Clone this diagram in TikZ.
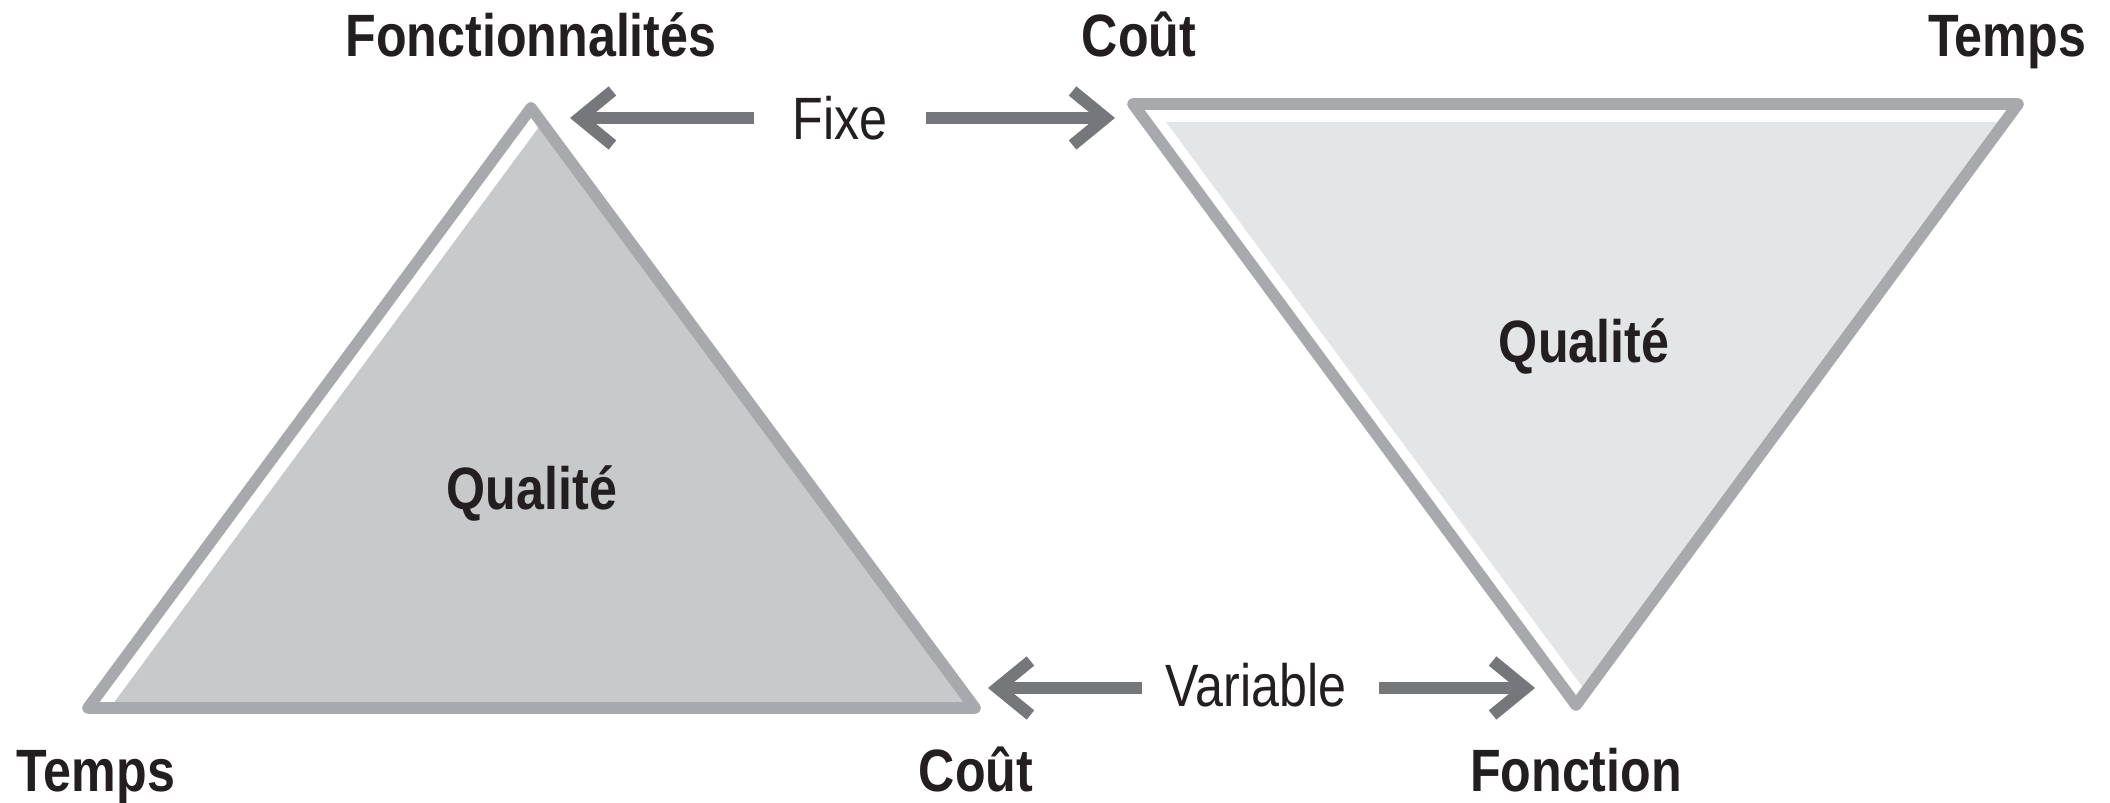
\documentclass[tikz,border=0pt]{standalone}
\usepackage{fontspec}
\usepackage{tikz}
\usetikzlibrary{arrows.meta}
\newfontfamily\condfont{Liberation Sans}[FakeStretch=0.84]
\definecolor{tri_rim}{HTML}{A7A9AC}
\definecolor{tri_dark}{HTML}{C8C9CB}
\definecolor{tri_light}{HTML}{E4E5E6}
\definecolor{arr_grey}{HTML}{76777A}
\definecolor{txt_black}{HTML}{231F20}
\tikzstyle{bl}=[anchor=base,inner sep=0pt,text=txt_black,
  font=\condfont\bfseries\fontsize{17}{20}\selectfont]
\tikzstyle{lt}=[anchor=base,inner sep=0pt,text=txt_black,
  font=\condfont\fontsize{17}{20}\selectfont]
\tikzstyle{rim}=[draw=tri_rim,line width=3.3pt,line join=round]
\tikzstyle{arr}=[draw=arr_grey,line width=3.4pt,
  -{Straight Barb[length=3.3mm,width=5.4mm]}]
\tikzstyle{none}=[inner sep=0pt,minimum size=0pt]

\begin{document}
\begin{tikzpicture}
    \useasboundingbox (0,0) rectangle (21.10,8.03);
    % corners
    \node [style=none] (1) at (5.31, 6.95) {};
    \node [style=none] (2) at (0.88, 0.95) {};
    \node [style=none] (3) at (9.75, 0.95) {};
    \node [style=none] (4) at (11.33, 6.99) {};
    \node [style=none] (5) at (20.18, 6.99) {};
    \node [style=none] (6) at (15.76, 0.98) {};
    % left triangle
    \begin{scope}
        \clip (1.center) -- (2.center) -- (3.center) -- cycle;
        \fill [tri_dark] ([xshift=0.22cm]1.center) -- ([xshift=0.22cm]2.center)
            -- ([xshift=0.22cm]3.center) -- cycle;
    \end{scope}
    \draw [style=rim] (1.center) -- (2.center) -- (3.center) -- cycle;
    % right triangle
    \begin{scope}
        \clip (4.center) -- (5.center) -- (6.center) -- cycle;
        \fill [tri_light] ([shift={(0.33,-0.18)}]4.center) -- ([shift={(0.33,-0.18)}]5.center)
            -- ([shift={(0.33,-0.18)}]6.center) -- cycle;
    \end{scope}
    \draw [style=rim] (4.center) -- (5.center) -- (6.center) -- cycle;
    % labels
    \node [style=bl] (10) at (5.31, 7.46) {Fonctionnalités};
    \node [style=bl] (11) at (11.39, 7.46) {Coût};
    \node [style=bl] (12) at (20.07, 7.46) {Temps};
    \node [style=bl] (13) at (0.96, 0.11) {Temps};
    \node [style=bl] (14) at (9.76, 0.11) {Coût};
    \node [style=bl] (15) at (15.76, 0.11) {Fonction};
    \node [style=bl] (16) at (5.32, 2.93) {Qualité};
    \node [style=bl] (17) at (15.84, 4.40) {Qualité};
    \node [style=lt] (18) at (8.40, 6.63) {Fixe};
    \node [style=lt] (19) at (12.56, 0.96) {Variable};
    % arrows
    \node [style=none] (20) at (7.54, 6.85) {};
    \node [style=none] (21) at (5.70, 6.85) {};
    \node [style=none] (22) at (9.26, 6.85) {};
    \node [style=none] (23) at (11.15, 6.85) {};
    \node [style=none] (24) at (11.42, 1.15) {};
    \node [style=none] (25) at (9.88, 1.15) {};
    \node [style=none] (26) at (13.79, 1.15) {};
    \node [style=none] (27) at (15.35, 1.15) {};
    \draw [style=arr] (20.center) to (21.center);
    \draw [style=arr] (22.center) to (23.center);
    \draw [style=arr] (24.center) to (25.center);
    \draw [style=arr] (26.center) to (27.center);
\end{tikzpicture}
\end{document}
